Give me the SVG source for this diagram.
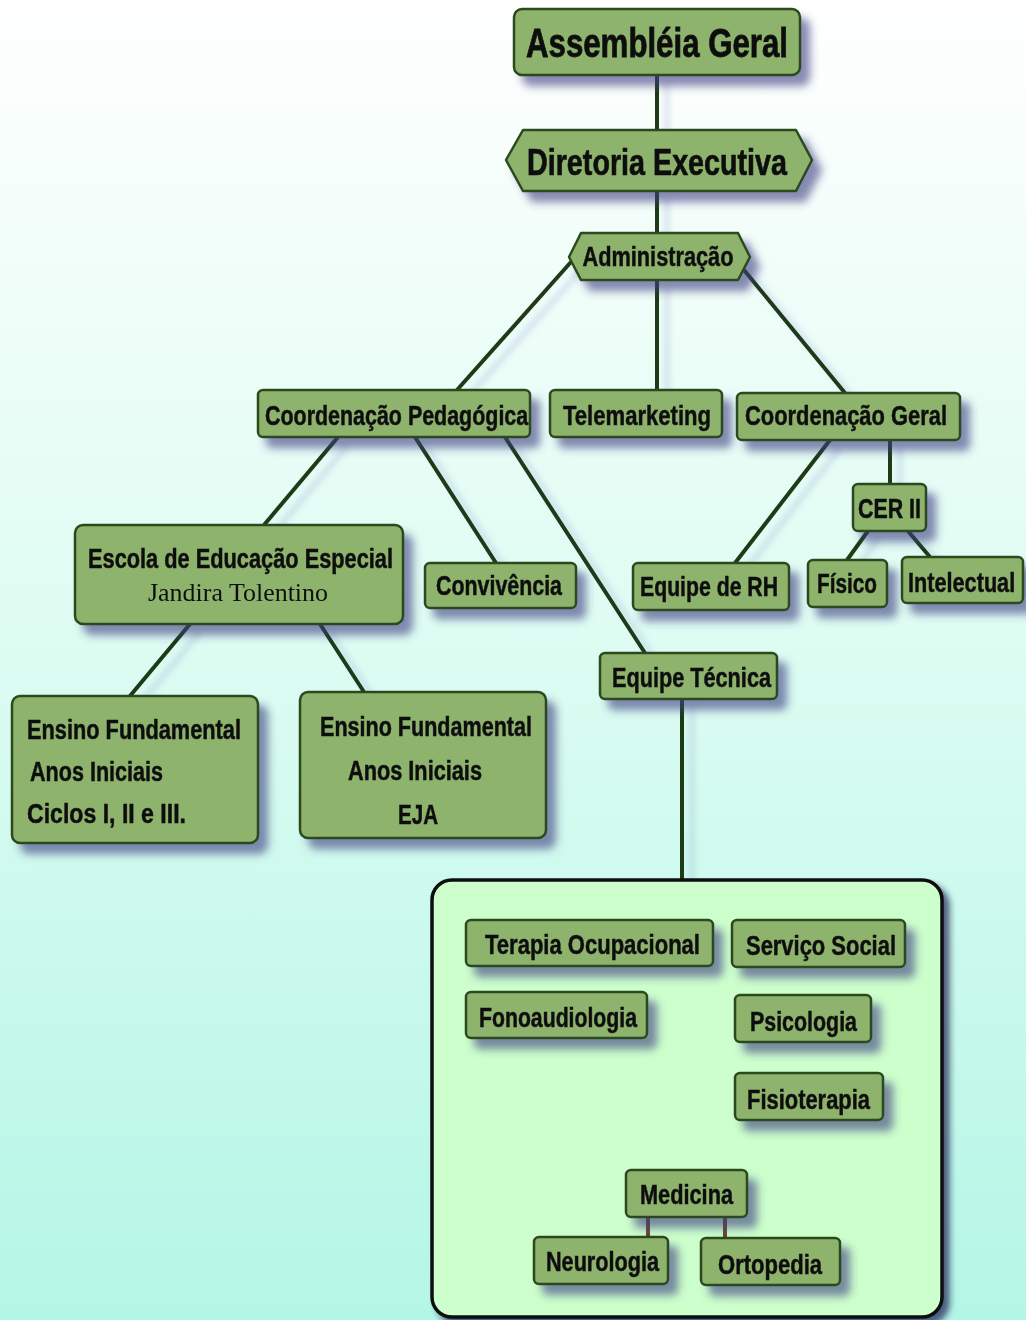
<svg xmlns="http://www.w3.org/2000/svg" width="1026" height="1320" viewBox="0 0 1026 1320">
<defs>
<linearGradient id="bg" x1="0" y1="0" x2="0" y2="1">
<stop offset="0" stop-color="#ffffff"/>
<stop offset="0.5" stop-color="#dcfcf2"/>
<stop offset="1" stop-color="#b4f6e6"/>
</linearGradient>
<filter id="sh" x="-20%" y="-30%" width="150%" height="180%">
<feDropShadow dx="9" dy="10" stdDeviation="4" flood-color="#3c3c80" flood-opacity="0.6"/>
</filter>
<filter id="lsh" x="-20%" y="-20%" width="150%" height="150%">
<feDropShadow dx="10" dy="8" stdDeviation="3" flood-color="#7f8fc8" flood-opacity="0.35"/>
</filter>
<filter id="csh" x="-5%" y="-5%" width="115%" height="115%">
<feDropShadow dx="6" dy="6" stdDeviation="3" flood-color="#1a1a50" flood-opacity="0.7"/>
</filter>
</defs>
<style>
.n{fill:#8db36c;stroke:#2c4a1e;stroke-width:2.5;stroke-linejoin:round}
.t{font-family:"Liberation Sans",Arial,sans-serif;font-weight:bold;fill:#111;stroke:#111;stroke-width:0.5;font-size:27px}
.big{font-size:41px;stroke-width:0.8}
.mid{font-size:36px;stroke-width:0.7}
.s{font-family:"Liberation Serif","Times New Roman",serif;fill:#111;font-size:26px}
.c{stroke:#1e3a14;stroke-width:4;fill:none}
.b{stroke:#6b4636;stroke-width:4;fill:none}
</style>
<rect x="0" y="0" width="1026" height="1320" fill="url(#bg)"/>

<g id="connectors" filter="url(#lsh)">
<line class="c" x1="657" y1="75" x2="657" y2="130"/>
<line class="c" x1="657" y1="190" x2="657" y2="232"/>
<line class="c" x1="571" y1="262" x2="457" y2="390"/>
<line class="c" x1="657" y1="280" x2="657" y2="390"/>
<line class="c" x1="744" y1="270" x2="845" y2="393"/>
<line class="c" x1="338" y1="437" x2="264" y2="525"/>
<line class="c" x1="415" y1="437" x2="496" y2="563"/>
<line class="c" x1="505" y1="437" x2="645" y2="653"/>
<line class="c" x1="830" y1="440" x2="735" y2="563"/>
<line class="c" x1="890" y1="440" x2="890" y2="484"/>
<line class="c" x1="868" y1="531" x2="847" y2="560"/>
<line class="c" x1="908" y1="531" x2="930" y2="557"/>
<line class="c" x1="190" y1="624" x2="130" y2="696"/>
<line class="c" x1="320" y1="624" x2="364" y2="692"/>
<line class="c" x1="682" y1="699" x2="682" y2="881"/>
</g>

<g id="assembleia" filter="url(#sh)">
<rect class="n" x="514" y="9" width="286" height="66" rx="8"/>
<text class="t big" x="657" y="57" text-anchor="middle" textLength="262" lengthAdjust="spacingAndGlyphs">Assembléia Geral</text>
</g>
<g id="diretoria" filter="url(#sh)">
<path class="n" d="M506,160 L523,130 L796,130 L812,160 L796,191 L523,191 Z"/>
<text class="t mid" x="657" y="175" text-anchor="middle" textLength="260" lengthAdjust="spacingAndGlyphs">Diretoria Executiva</text>
</g>
<g id="administracao" filter="url(#sh)">
<path class="n" d="M569,257 L581,233 L738,233 L750,257 L738,280 L581,280 Z"/>
<text class="t" x="658" y="266" text-anchor="middle" textLength="151" lengthAdjust="spacingAndGlyphs">Administração</text>
</g>
<g id="coord-pedagogica" filter="url(#sh)">
<rect class="n" x="258" y="390" width="272" height="47" rx="5"/>
<text class="t" transform="translate(265,425) scale(0.8,1)" x="0" y="0" textLength="329" lengthAdjust="spacingAndGlyphs">Coordenação Pedagógica</text>
</g>
<g id="telemarketing" filter="url(#sh)">
<rect class="n" x="550" y="390" width="172" height="47" rx="5"/>
<text class="t" x="563" y="425" textLength="148" lengthAdjust="spacingAndGlyphs">Telemarketing</text>
</g>
<g id="coord-geral" filter="url(#sh)">
<rect class="n" x="737" y="393" width="223" height="47" rx="5"/>
<text class="t" x="745" y="425" textLength="202" lengthAdjust="spacingAndGlyphs">Coordenação  Geral</text>
</g>
<g id="cer2" filter="url(#sh)">
<rect class="n" x="853" y="484" width="73" height="47" rx="5"/>
<text class="t" x="858" y="518" textLength="63" lengthAdjust="spacingAndGlyphs">CER II</text>
</g>
<g id="fisico" filter="url(#sh)">
<rect class="n" x="808" y="560" width="79" height="47" rx="5"/>
<text class="t" x="817" y="593" textLength="60" lengthAdjust="spacingAndGlyphs">Físico</text>
</g>
<g id="intelectual" filter="url(#sh)">
<rect class="n" x="902" y="557" width="121" height="46" rx="5"/>
<text class="t" transform="translate(908,592) scale(0.8,1)" x="0" y="0" textLength="134" lengthAdjust="spacingAndGlyphs">Intelectual</text>
</g>
<g id="equipe-rh" filter="url(#sh)">
<rect class="n" x="633" y="563" width="156" height="47" rx="5"/>
<text class="t" x="640" y="596" textLength="138" lengthAdjust="spacingAndGlyphs">Equipe de RH</text>
</g>
<g id="convivencia" filter="url(#sh)">
<rect class="n" x="425" y="563" width="151" height="45" rx="5"/>
<text class="t" x="436" y="595" textLength="126" lengthAdjust="spacingAndGlyphs">Convivência</text>
</g>
<g id="escola" filter="url(#sh)">
<rect class="n" x="75" y="525" width="328" height="99" rx="8"/>
<text class="t" x="88" y="568" textLength="305" lengthAdjust="spacingAndGlyphs">Escola de Educação Especial</text>
<text class="s" x="148" y="601" textLength="180" lengthAdjust="spacingAndGlyphs">Jandira Tolentino</text>
</g>
<g id="ensino-1" filter="url(#sh)">
<rect class="n" x="12" y="696" width="246" height="147" rx="8"/>
<text class="t" x="27" y="739" textLength="214" lengthAdjust="spacingAndGlyphs">Ensino  Fundamental</text>
<text class="t" x="30" y="781" textLength="133" lengthAdjust="spacingAndGlyphs">Anos Iniciais</text>
<text class="t" x="27" y="823" textLength="159" lengthAdjust="spacingAndGlyphs">Ciclos I, II e III.</text>
</g>
<g id="ensino-2" filter="url(#sh)">
<rect class="n" x="300" y="692" width="246" height="146" rx="8"/>
<text class="t" x="320" y="736" textLength="212" lengthAdjust="spacingAndGlyphs">Ensino Fundamental</text>
<text class="t" x="348" y="780" textLength="134" lengthAdjust="spacingAndGlyphs">Anos Iniciais</text>
<text class="t" x="398" y="824" textLength="40" lengthAdjust="spacingAndGlyphs">EJA</text>
</g>
<g id="equipe-tecnica" filter="url(#sh)">
<rect class="n" x="600" y="653" width="177" height="46" rx="5"/>
<text class="t" x="612" y="687" textLength="159" lengthAdjust="spacingAndGlyphs">Equipe Técnica</text>
</g>

<g id="container" filter="url(#csh)">
<rect x="432" y="880" width="510" height="437" rx="20" fill="#ccffcc" stroke="#0c0c0c" stroke-width="3.5"/>
</g>

<g id="medicina-links">
<line class="b" x1="648" y1="1217" x2="648" y2="1237"/>
<line class="b" x1="725" y1="1217" x2="725" y2="1238"/>
</g>

<g id="terapia" filter="url(#sh)">
<rect class="n" x="466" y="920" width="247" height="46" rx="5"/>
<text class="t" x="485" y="954" textLength="215" lengthAdjust="spacingAndGlyphs">Terapia Ocupacional</text>
</g>
<g id="servico-social" filter="url(#sh)">
<rect class="n" x="732" y="920" width="173" height="47" rx="5"/>
<text class="t" x="746" y="955" textLength="150" lengthAdjust="spacingAndGlyphs">Serviço Social</text>
</g>
<g id="fonoaudiologia" filter="url(#sh)">
<rect class="n" x="466" y="992" width="181" height="46" rx="5"/>
<text class="t" x="479" y="1027" textLength="158" lengthAdjust="spacingAndGlyphs">Fonoaudiologia</text>
</g>
<g id="psicologia" filter="url(#sh)">
<rect class="n" x="735" y="995" width="136" height="47" rx="5"/>
<text class="t" x="750" y="1031" textLength="107" lengthAdjust="spacingAndGlyphs">Psicologia</text>
</g>
<g id="fisioterapia" filter="url(#sh)">
<rect class="n" x="735" y="1073" width="148" height="47" rx="5"/>
<text class="t" x="747" y="1109" textLength="123" lengthAdjust="spacingAndGlyphs">Fisioterapia</text>
</g>
<g id="medicina" filter="url(#sh)">
<rect class="n" x="626" y="1170" width="121" height="47" rx="5"/>
<text class="t" x="640" y="1204" textLength="93" lengthAdjust="spacingAndGlyphs">Medicina</text>
</g>
<g id="neurologia" filter="url(#sh)">
<rect class="n" x="534" y="1237" width="134" height="47" rx="5"/>
<text class="t" x="546" y="1271" textLength="113" lengthAdjust="spacingAndGlyphs">Neurologia</text>
</g>
<g id="ortopedia" filter="url(#sh)">
<rect class="n" x="701" y="1238" width="139" height="47" rx="5"/>
<text class="t" x="718" y="1274" textLength="104" lengthAdjust="spacingAndGlyphs">Ortopedia</text>
</g>
</svg>
